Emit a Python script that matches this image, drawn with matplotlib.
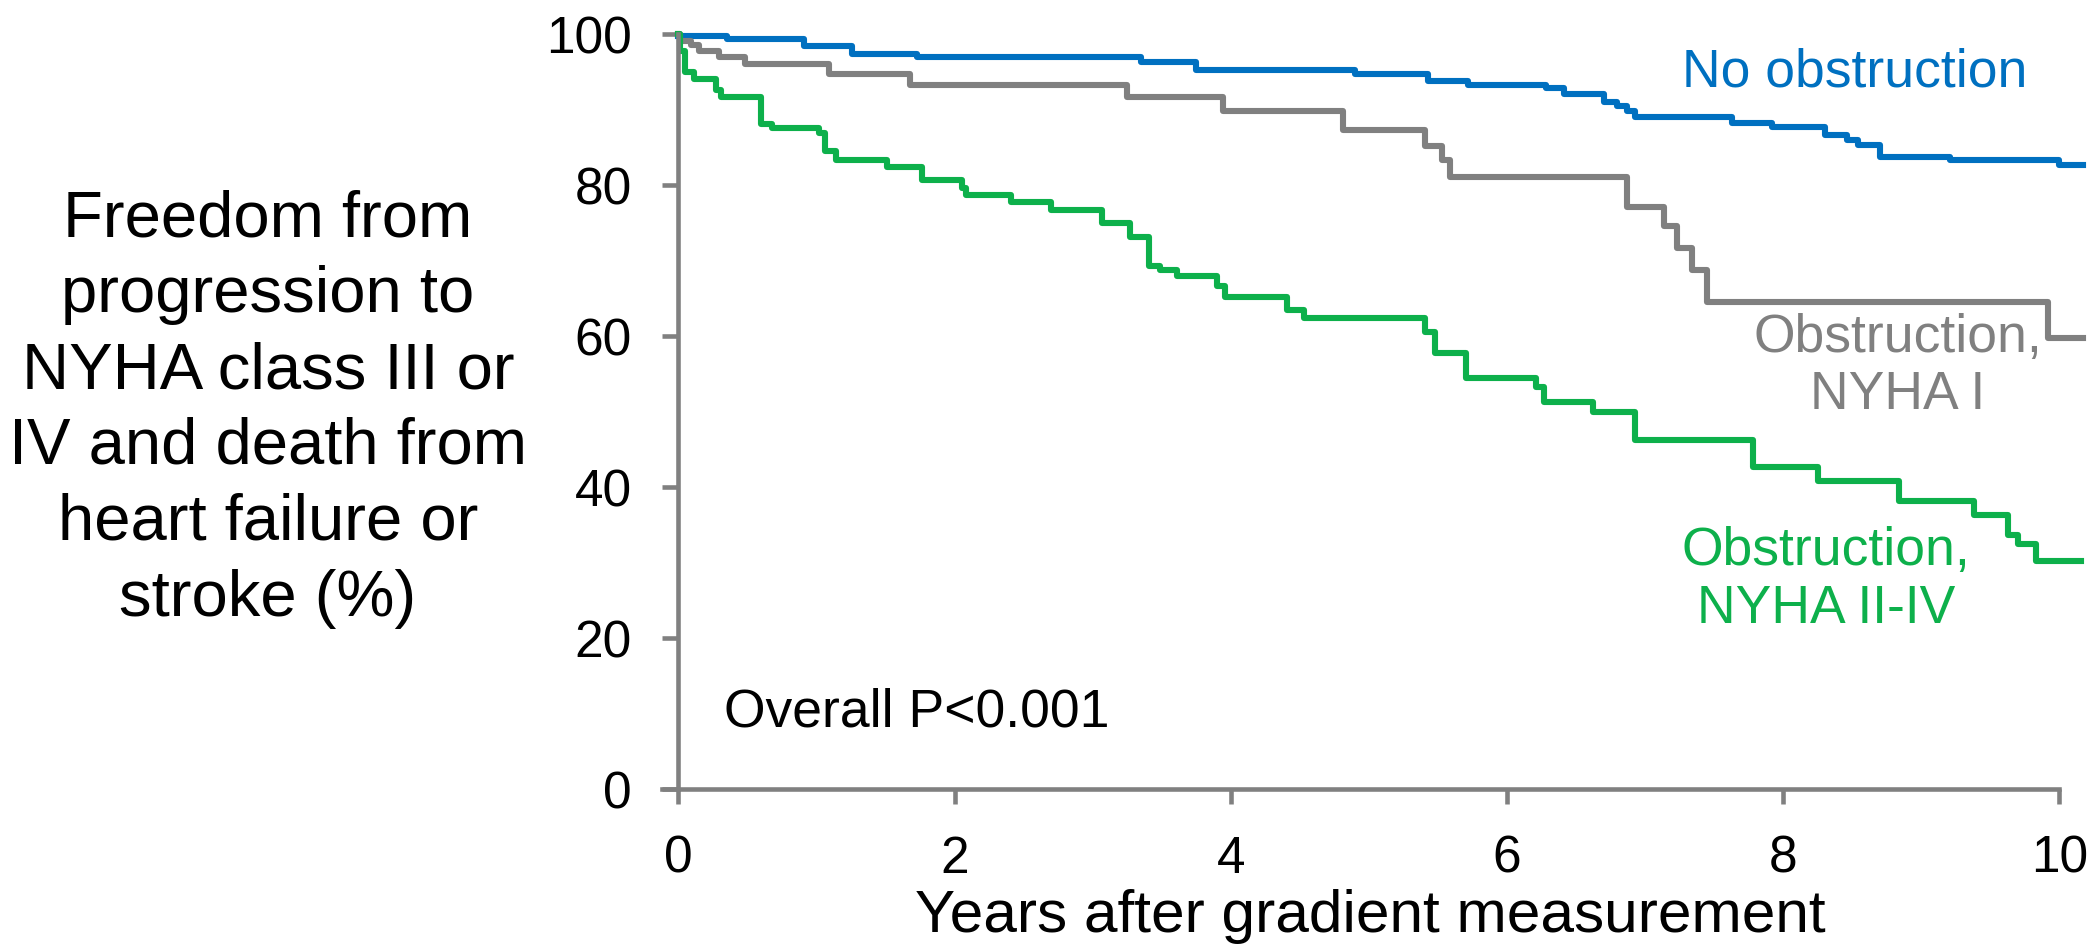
import matplotlib
matplotlib.use("Agg")
import matplotlib.pyplot as plt

plt.rcParams['font.family'] = ['Liberation Sans', 'DejaVu Sans']

# Kaplan-Meier style step curves (years, % free of event)
t_none = [0, 0.35, 0.91, 1.26, 1.73, 3.35, 3.75, 4.90, 5.43, 5.72, 6.28, 6.41, 6.70,
          6.80, 6.87, 6.93, 7.63, 7.92, 8.30, 8.46, 8.54, 8.70, 9.21, 10.00, 10.17]
s_none = [99.8, 99.3, 98.4, 97.4, 97.0, 96.3, 95.2, 94.7, 93.8, 93.2, 92.8, 92.1, 91.0,
          90.5, 89.8, 89.0, 88.2, 87.7, 86.6, 86.0, 85.3, 83.7, 83.3, 82.6, 82.6]

t_nyha1 = [0, 0.01, 0.09, 0.15, 0.29, 0.48, 1.09, 1.68, 3.25, 3.94, 4.81, 5.41, 5.53,
           5.59, 6.87, 7.14, 7.23, 7.34, 7.45, 9.92, 10.17]
s_nyha1 = [100, 99.1, 98.5, 97.7, 97.0, 96.0, 94.7, 93.2, 91.6, 89.8, 87.3, 85.2, 83.3,
           81.1, 77.1, 74.6, 71.7, 68.7, 64.5, 59.7, 59.7]

t_nyha2 = [0, 0.01, 0.05, 0.11, 0.27, 0.31, 0.60, 0.68, 1.02, 1.06, 1.14, 1.51, 1.76,
           2.05, 2.08, 2.41, 2.70, 3.07, 3.27, 3.41, 3.49, 3.61, 3.90, 3.96, 4.41, 4.53,
           5.41, 5.48, 5.70, 6.21, 6.27, 6.62, 6.93, 7.78, 8.25, 8.84, 9.38, 9.63, 9.70,
           9.83, 10.16]
s_nyha2 = [100, 97.8, 95.0, 94.1, 92.6, 91.7, 88.1, 87.5, 86.9, 84.5, 83.3, 82.4, 80.7,
           79.6, 78.7, 77.8, 76.7, 75.0, 73.1, 69.3, 68.8, 67.9, 66.6, 65.2, 63.4, 62.4,
           60.6, 57.8, 54.5, 53.2, 51.3, 50.0, 46.2, 42.7, 40.8, 38.1, 36.3, 33.6, 32.5,
           30.2, 30.2]

x_ticks = [0, 2, 4, 6, 8, 10]
y_ticks = [0, 20, 40, 60, 80, 100]

blue = '#0070C0'
gray = '#808080'
green = '#0DB04B'

fig = plt.figure(figsize=(20.98, 9.47), dpi=100)
ax = fig.add_axes([0.3155, 0.1668, 0.6792, 0.8052])

lw = 4.4
ax.plot(t_none, s_none, drawstyle='steps-post', color=blue, lw=lw)
ax.plot(t_nyha1, s_nyha1, drawstyle='steps-post', color=gray, lw=lw)
ax.plot(t_nyha2, s_nyha2, drawstyle='steps-post', color=green, lw=lw)

ax.set_xlim(-0.12, 10.2)
ax.set_ylim(0, 101)

for sp in ['top', 'right']:
    ax.spines[sp].set_visible(False)
ax.spines['left'].set_position(('data', 0))
ax.spines['left'].set_bounds(0, 100)
ax.spines['bottom'].set_bounds(-0.12, 10)
for sp in ['left', 'bottom']:
    ax.spines[sp].set_color(gray)
    ax.spines[sp].set_linewidth(3.3)

ax.set_xticks(x_ticks)
ax.set_yticks(y_ticks)
ax.tick_params(axis='x', direction='out', length=10.8, width=3.3, color=gray,
               labelsize=37, pad=22)
ax.tick_params(axis='y', direction='out', length=11.5, width=3.3, color=gray,
               labelsize=37, pad=22)

# curve labels
fs = 38.5
ax.text(7.27, 93.0, 'No obstruction', color=blue, fontsize=fs, ha='left', va='baseline')
ax.text(8.83, 57.9, 'Obstruction,', color=gray, fontsize=fs, ha='center', va='baseline')
ax.text(8.83, 50.3, 'NYHA I', color=gray, fontsize=fs, ha='center', va='baseline')
ax.text(8.31, 29.7, 'Obstruction,', color=green, fontsize=fs, ha='center', va='baseline')
ax.text(8.31, 22.0, 'NYHA II-IV', color=green, fontsize=fs, ha='center', va='baseline')
ax.text(0.33, 8.25, 'Overall P<0.001', color='black', fontsize=fs, ha='left', va='baseline')

fig.text(1370 / 2098, 1 - 916 / 947, 'Years after gradient measurement',
         fontsize=43.5, ha='center', va='center')
fig.text(268 / 2098, 1 - 409 / 947,
         'Freedom from\nprogression to\nNYHA class III or\nIV and death from\nheart failure or\nstroke (%)',
         fontsize=47, ha='center', va='center', multialignment='center', linespacing=1.34)

fig.savefig('out.png', dpi=100)
